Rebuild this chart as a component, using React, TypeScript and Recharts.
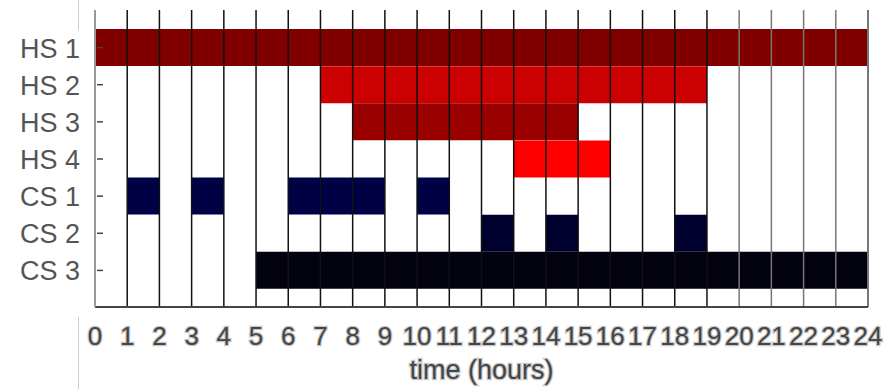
import React from 'react';
import { BarChart, Bar, Cell, XAxis, YAxis, ReferenceLine, Label } from 'recharts';

const rows = ['HS 1', 'HS 2', 'HS 3', 'HS 4', 'CS 1', 'CS 2', 'CS 3'];
const rowColors = ['#800000', '#cc0000', '#9a0000', '#ff0000', '#000044', '#00002e', '#03030f'];

// on-intervals per row, [start hour, end hour]
const hs1 = [[0, 24]];
const hs2 = [[7, 19]];
const hs3 = [[8, 15]];
const hs4 = [[13, 16]];
const cs1 = [[1, 2], [3, 4], [6, 9], [10, 11]];
const cs2 = [[12, 13], [14, 15], [18, 19]];
const cs3 = [[5, 24]];
const intervals = [hs1, hs2, hs3, hs4, cs1, cs2, cs3];

const hours = [0, 1, 2, 3, 4, 5, 6, 7, 8, 9, 10, 11, 12, 13, 14, 15, 16, 17, 18, 19, 20, 21, 22, 23, 24];

const PIECES = 8;

// turn the intervals into gap / on lengths for a stacked bar
const data = rows.map((name, r) => {
  const row: any = { name };
  let t = 0;
  let k = 0;
  intervals[r].forEach(([a, b]) => {
    row[`p${k++}`] = a - t;
    row[`p${k++}`] = b - a;
    t = b;
  });
  return row;
});

const YTick = (props: any) => {
  const { x, y, payload } = props;
  return (
    <g>
      <line x1={x + 2} x2={x + 8} y1={y} y2={y} stroke="#444" strokeWidth={1.5} />
      <text x={x - 15} y={y} dy={10} textAnchor="end" fontSize={27} fill="#555"
        fontFamily="'Liberation Sans', Arial, sans-serif">
        {payload.value}
      </text>
    </g>
  );
};

const XTick = (props: any) => {
  const { x, y, payload } = props;
  return (
    <text x={x} y={y} dy={30} textAnchor="middle" fontSize={26} fill="#444"
      stroke="#c8c8c8" strokeWidth={2.5} paintOrder="stroke"
      fontFamily="'Liberation Sans', Arial, sans-serif">
      {payload.value}
    </text>
  );
};

const App = () => {
  return (
    <div style={{ position: 'absolute', left: 0, top: 0, width: 888, height: 389, background: '#fff' }}>
      <div style={{ position: 'absolute', left: 78, top: 0, width: 1, height: 30, background: '#ccc' }} />
      <div style={{ position: 'absolute', left: 78, top: 317, width: 1, height: 72, background: '#ccc' }} />
      <BarChart
        width={888}
        height={389}
        data={data}
        layout="vertical"
        barCategoryGap={0}
        margin={{ top: 10, right: 20, left: 0, bottom: 0 }}
      >
        <XAxis
          xAxisId="top"
          orientation="top"
          type="number"
          domain={[0, 24]}
          ticks={hours}
          height={0}
          tick={false}
          tickSize={3}
          axisLine={{ stroke: '#bbb', strokeWidth: 1 }}
          tickLine={{ stroke: '#999' }}
        />
        <XAxis
          type="number"
          domain={[0, 24]}
          ticks={hours}
          interval={0}
          height={82}
          tickLine={false}
          tick={<XTick />}
          axisLine={{ stroke: '#444', strokeWidth: 2 }}
        >
          <Label value="time (hours)" position="insideBottom" offset={10} fontSize={27} fill="#444"
            stroke="#c8c8c8" strokeWidth={2.5} paintOrder="stroke"
            fontFamily="'Liberation Sans', Arial, sans-serif" />
        </XAxis>
        <YAxis
          type="category"
          dataKey="name"
          width={95}
          padding={{ top: 19, bottom: 18 }}
          tickLine={false}
          tickSize={0}
          tickMargin={0}
          tick={<YTick />}
          axisLine={{ stroke: '#999', strokeWidth: 2 }}
        />
        {Array.from({ length: PIECES }, (_, i) => (
          <Bar key={i} dataKey={`p${i}`} stackId="a" isAnimationActive={false}
            fill={i % 2 === 0 ? 'transparent' : '#000'}>
            {data.map((_, r) => (
              <Cell key={r} fill={i % 2 === 0 ? 'transparent' : rowColors[r]} />
            ))}
          </Bar>
        ))}
        {hours.map((h) => (
          <ReferenceLine key={h} x={h}
            stroke={h === 0 || h >= 20 ? '#777' : '#111'}
            strokeWidth={h === 24 ? 2 : 1.5} />
        ))}
      </BarChart>
    </div>
  );
};

export default App;
